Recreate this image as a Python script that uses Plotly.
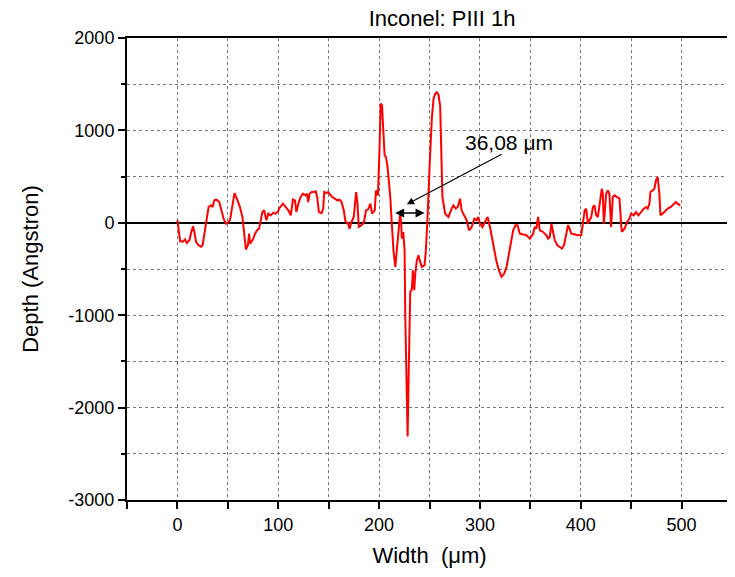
import plotly.graph_objects as go

width_um = [0, 2.7, 5.2, 7.6, 9.2, 11.9, 13.8, 15.5, 16.8, 18.5, 21, 23.4, 25, 27.7, 29, 30.9, 33.3, 34.9,
            36.6, 38.8, 41.5, 43.8, 45.8, 48.1, 49.7, 52.1, 54.6, 56.6, 59, 62, 64.5, 66.5, 67.9, 69.9,
            71.1, 72.1, 74.4, 77.1, 79.3, 81, 82.7, 84.3, 86, 88.2, 90.2, 92.6, 94.9, 97.5, 100.1,
            100.8, 104.7, 107.4, 110, 112.4, 114.6, 116.6, 117.9, 119.9, 122.2, 124.5, 127.2, 128.5,
            129.7, 131.1, 133.1, 135.4, 137.1, 138.6, 140.3, 143, 144.6, 145.6, 147.5, 149.5, 151.2,
            153.5, 156.1, 158.4, 160.8, 162.7, 165, 166.7, 169, 170.7, 172.6, 174.9, 177.2, 178.6,
            179.8, 182.5, 184.8, 187.1, 189, 191.4, 193, 195.7, 196.9,
            198.9, 200.3, 201.6, 202.9, 204.2, 205.5, 206.8, 208.2, 209.5, 211.2, 212.7, 214.4, 216.1,
            217.4, 218.7, 220, 221, 222, 222.6, 224, 225.3, 226, 227.6, 228.3, 229.2, 229.9, 230.9,
            232.5, 233.5, 234.9, 235.9, 237.5, 239.1, 240.8, 242.4, 245.1, 246.3, 247.7, 249, 250.7,
            252.3, 254, 255.6, 257.2, 258.9, 260.6, 261.6, 262.8, 265.5, 268.8, 272, 273.7, 276, 278,
            280.3, 281.9, 284.3, 286.9, 289.2, 291.8, 294.5, 296.7, 298.4, 300.1, 302.4, 305.1, 307.6,
            310, 311.6, 314.2, 316.5, 318.9, 321.4, 324.1, 326.4, 328.8, 331.3, 333, 335.3, 337.3,
            339.6, 342.9, 346.1, 349.5, 352.8, 354.4, 356, 357.7, 359.4, 362.6, 365.9, 367.6, 369.3,
            370.9, 372.5, 374.2, 376.8, 379.2, 381.4, 383.4, 385.7, 387.4, 389, 390.6, 393.3, 397.2,
            400.5, 403.9, 405.4, 407.1, 410.4, 412.1, 413.7, 415.3, 417, 419.7, 420.9, 421.9, 422.9,
            424.2, 425.2, 426.9, 428.4, 430.1, 431.8, 433.5, 436.1, 438.4, 440, 440.7, 443.4, 446,
            448.3, 450, 452.6, 454.8, 457.2, 459.8, 462.5, 464.7, 466.4, 468.1, 469.1, 471.3, 473,
            474.6, 476.3, 478, 479, 481.2, 482.9, 486.2, 489.4, 492.8, 494.4, 496, 498.7]

depth_a = [30, -200, -205, -180, -218, -188, -100, -38, -100, -207, -243, -260, -243, -45, 80, 170, 190, 170,
           243, 250, 225, 135, 45, -9, -2, 27, 170, 320, 260, 170, 62, -153, -289, -243,
           -117, -225, -189, -117, -74, -63, 27, 117, 135, 27, 99, 81, 108, 99, 127,
           153, 207, 171, 135, 81, 252, 243, 117, 207, 279, 315, 297, 315,
           225, 315, 333, 333, 342, 279, 117, 105, 153, 333, 321, 333, 306,
           279, 261, 243, 250, 225, 135, 9, -2, -63, 9, 63, 333, 207,
           -45, -27, -2, 135, 143, 207, 99, 135, 350,
           297, 765, 1290, 1270, 945, 729, 711, 621, 476, 261, -27, -315, -477,
           -315, -99, -27, 117, -27, -171, -99, -297, -1017, -1737, -2313, -1737, -1017, -747,
           -720, -513, -729, -549, -405, -351, -423, -477, -459, -315, -27, 405, 765,
           1125, 1341, 1395, 1413, 1386, 1260, 819, 279, 99, 63, 153, 189, 153, 171,
           261, 135, 81, 27, -81, -45, 45, 27, 63, -9, -45, 9, 63,
           -45, -135, -297, -423, -513, -585, -549, -477, -333, -189, -81, -27, -27,
           -117, -124, -135, -171, -117, -45, -63, 63, -81, -99, -135, -171, -153,
           -9, -117, -189, -243, -261, -279, -243, -117, -27, -63, -117, -124, -135,
           -135, 135, 153, -9, 63, 171, 189, 81, 63, 315, 369, 315, -9,
           171, 315, 351, 315, -45, 279, 297, 279, 261, -9, -99, -63, 9,
           45, 99, 81, 117, 81, 117, 153, 171, 153, 207, 333, 351, 369,
           459, 495, 315, 81, 99, 117, 153, 171, 207, 225, 207, 189]

x_tick_vals = [0, 100, 200, 300, 400, 500]
x_tick_text = ["0", "100", "200", "300", "400", "500"]
y_tick_vals = [-3000, -2000, -1000, 0, 1000, 2000]
y_tick_text = ["-3000", "-2000", "-1000", "0", "1000", "2000"]

title_text = "Inconel: PIII 1h"
x_title = "Width  (\u03bcm)"
y_title = "Depth (Angstron)"
label_text = "36,08 \u03bcm"

FONT = "Liberation Sans, Arial, Helvetica, sans-serif"

fig = go.Figure()
fig.add_trace(go.Scatter(x=width_um, y=depth_a, mode="lines",
                         line=dict(color="#ff0000", width=2), showlegend=False))

axis_common = dict(showline=True, linecolor="black", linewidth=2, mirror=True,
                   ticks="outside", ticklen=7, tickwidth=1.5, tickcolor="black",
                   showgrid=False, tickmode="array",
                   tickfont=dict(family=FONT, size=18, color="black"))

fig.update_xaxes(range=[-50, 550], tickvals=x_tick_vals, ticktext=x_tick_text, zeroline=False,
                 minor=dict(dtick=50, tick0=0, ticks="outside", ticklen=7, tickwidth=1.5,
                            tickcolor="black", showgrid=True, gridcolor="#777777",
                            griddash="dot", gridwidth=1),
                 title=dict(text=x_title, font=dict(family=FONT, size=22, color="black"), standoff=14),
                 **axis_common)
fig.update_yaxes(range=[-3000, 2000], tickvals=y_tick_vals, ticktext=y_tick_text,
                 zeroline=True, zerolinecolor="black", zerolinewidth=1.5,
                 minor=dict(dtick=500, tick0=0, ticks="outside", ticklen=4, tickwidth=1.5,
                            tickcolor="black", showgrid=True, gridcolor="#777777",
                            griddash="dot", gridwidth=1),
                 title=dict(text=y_title, font=dict(family=FONT, size=22, color="black"), standoff=24),
                 **axis_common)

# text label
fig.add_annotation(x=329, y=870, xref="x", yref="y", text=label_text, showarrow=False,
                   font=dict(family=FONT, size=21, color="black"))
# pointer arrow
fig.add_annotation(x=227.5, y=200, ax=323, ay=750, xref="x", yref="y", axref="x", ayref="y",
                   text="", showarrow=True, arrowhead=2, arrowsize=1.2, arrowwidth=1.2,
                   arrowcolor="black")
# double-headed width arrow
fig.add_annotation(x=245.1, y=106, ax=214.4, ay=106, xref="x", yref="y", axref="x", ayref="y",
                   text="", showarrow=True, arrowhead=2, startarrowhead=2, arrowside="end+start",
                   arrowsize=1.2, startarrowsize=1.2, arrowwidth=1.5, arrowcolor="black")

fig.update_layout(
    width=727, height=569,
    margin=dict(l=119, r=1, t=30, b=77),
    paper_bgcolor="white", plot_bgcolor="white",
    title=dict(text=title_text, x=0.597, xanchor="center", y=1, yanchor="top",
               yref="container", pad=dict(t=3, b=0),
               font=dict(family=FONT, size=22, color="black")),
    font=dict(family=FONT, color="black"),
)

fig.write_html("out.html")
